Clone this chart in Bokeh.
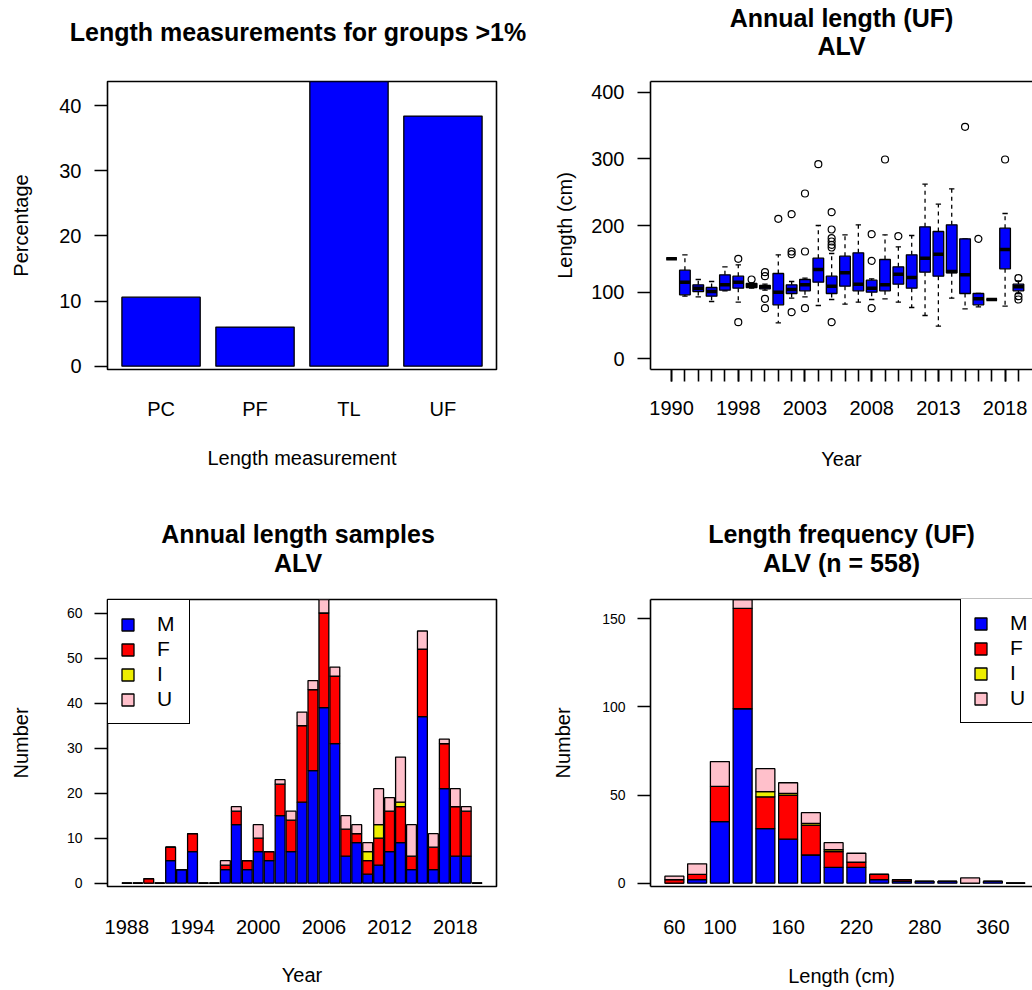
from bokeh.plotting import figure
from bokeh.layouts import column, row
from bokeh.models import (ColumnDataSource, FactorRange, Range1d, FixedTicker,
                          SingleIntervalTicker, Title, Legend, LegendItem, LinearAxis)
from bokeh.embed import file_html
from bokeh.resources import INLINE

FONT = "Liberation Sans"

# ---------------------------------------------------------------- data
# share of length records by measurement type (%), groups above 1 %
meas_types = ["PC", "PF", "TL", "UF"]
meas_pct = [10.6, 6.0, 43.7, 38.4]

# annual UF length summary (cm)
box_years = [1990, 1992, 1993, 1994, 1997, 1998, 1999, 2000, 2001, 2002, 2003, 2004,
             2005, 2006, 2007, 2008, 2009, 2010, 2011, 2012, 2013, 2014, 2015, 2016,
             2017, 2018, 2019]
box_lo = [150, 94, 93, 86, 102, 85, 106, 103, 54, 91, 93, 80, 89, 82, 85, 89, 90, 85,
          77, 65, 49, 91, 75, 78, 89, 79, 98]
box_q1 = [150, 96, 101, 94, 103, 106, 107, 105, 81, 98, 102, 115, 98, 109, 102, 100, 102,
          112, 106, 130, 124, 129, 98, 81, 89, 135, 102]
box_med = [150, 115, 106, 101, 111, 115, 110, 108, 100, 104, 111, 134, 109, 129, 112, 106,
           111, 127, 122, 151, 157, 131, 126, 90, 89, 164, 108]
box_q3 = [150, 133, 111, 107, 126, 124, 113, 110, 128, 111, 119, 151, 124, 154, 159, 118,
          149, 138, 156, 198, 191, 201, 180, 98, 89, 196, 112]
box_hi = [150, 156, 119, 116, 138, 141, 114, 112, 156, 116, 121, 200, 158, 186, 201, 120,
          186, 168, 185, 262, 232, 255, 180, 98, 89, 218, 117]
out_years = [1998, 1998, 1999, 2000, 2000, 2000, 2000, 2001, 2002, 2002, 2002, 2002,
             2003, 2003, 2003, 2004, 2005, 2005, 2005, 2005, 2005, 2005, 2005, 2008,
             2008, 2008, 2009, 2010, 2015, 2016, 2018, 2019, 2019, 2019]
out_len = [150, 55, 119, 130, 124, 90, 76, 210, 217, 161, 157, 70, 248, 161, 76, 292,
           220, 194, 181, 176, 171, 167, 55, 187, 147, 76, 299, 184, 348, 180, 299,
           121, 94, 89]
box_year_labels = ["1990", "1998", "2003", "2008", "2013", "2018"]

# annual number of length samples by sex
sample_years = [1988, 1989, 1990, 1991, 1992, 1993, 1994, 1995, 1996, 1997, 1998, 1999,
                2000, 2001, 2002, 2003, 2004, 2005, 2006, 2007, 2008, 2009, 2010, 2011,
                2012, 2013, 2014, 2015, 2016, 2017, 2018, 2019, 2020]
sex_M = [0, 0, 0, 0, 5, 3, 7, 0, 0, 3, 13, 3, 7, 5, 15, 7, 18, 25, 39, 31, 6, 9, 2, 4,
         7, 9, 3, 37, 3, 21, 6, 6, 0]
sex_F = [0, 0, 1, 0, 3, 0, 4, 0, 0, 1, 3, 2, 3, 2, 7, 7, 17, 18, 21, 15, 6, 2, 3, 6,
         9, 8, 3, 15, 5, 10, 11, 10, 0]
sex_I = [0, 0, 0, 0, 0, 0, 0, 0, 0, 0, 0, 0, 0, 0, 0, 0, 0, 0, 0, 0, 0, 0, 2, 3,
         0, 1, 0, 0, 0, 0, 0, 0, 0]
sex_U = [0, 0, 0, 0, 0, 0, 0, 0, 0, 1, 1, 0, 3, 0, 1, 2, 3, 2, 3, 2, 3, 2, 2, 8,
         3, 10, 7, 4, 3, 1, 4, 1, 0]
year_tick_labels = [1988, 1994, 2000, 2006, 2012, 2018]

# UF length frequency by 20 cm class and sex
len_bins = ["60", "80", "100", "120", "140", "160", "180", "200", "220", "240", "260",
            "280", "300", "340", "360", "380"]
freq_M = [0, 2, 35, 99, 31, 25, 16, 9, 9, 2, 1, 1, 1, 0, 1, 0]
freq_F = [2, 3, 20, 57, 18, 25, 17, 9, 3, 3, 1, 0, 0, 0, 0, 0]
freq_I = [0, 0, 0, 0, 3, 1, 1, 1, 0, 0, 0, 0, 0, 0, 0, 0]
freq_U = [2, 6, 14, 5, 13, 6, 6, 4, 5, 0, 0, 0, 0, 3, 0, 0]
len_tick_labels = ["60", "100", "160", "220", "280", "360"]

sex_codes = ["M", "F", "I", "U"]
sex_colors = ["#0000FF", "#FF0000", "#EEEE00", "#FFC0CB"]

# ---------------------------------------------------------------- layout constants
ROW_H = 495
LW = 1.6
VISIBLE = 382 / 389  # right-hand panels run past the page edge
LEGEND_H = 124


def base_fig(width, x_range, y_range, left, right, top, bottom, outline=True):
    p = figure(width=width, height=ROW_H, x_range=x_range, y_range=y_range,
               title=None, output_backend="svg", toolbar_location=None,
               min_border_left=left, min_border_right=right,
               min_border_top=top, min_border_bottom=bottom)
    p.grid.visible = False
    p.background_fill_color = "white"
    p.border_fill_color = "white"
    if outline:
        p.outline_line_color = "black"
        p.outline_line_width = LW
        p.outline_line_alpha = 1.0
    else:
        p.outline_line_color = None
    return p


def style_axis(ax, tick_size="20px"):
    ax.major_label_text_font = FONT
    ax.major_label_text_font_size = tick_size
    ax.major_label_text_color = "black"
    ax.axis_label_text_font = FONT
    ax.axis_label_text_font_size = "20px"
    ax.axis_label_text_font_style = "normal"
    ax.axis_label_text_color = "black"
    ax.major_tick_line_color = "black"
    ax.major_tick_line_width = LW
    ax.major_tick_in = 0
    ax.minor_tick_line_color = None
    ax.axis_line_color = None


def add_title(p, lines, gaps, standoffs, shift_left=0):
    # lines are given from the frame outward; gap = empty space kept below the text
    for text, g, s in zip(lines, gaps, standoffs):
        p.add_layout(Title(text=text, align="center", standoff=s,
                           padding=dict(left=0, right=2 * shift_left, top=0, bottom=g),
                           text_font=FONT, text_font_size="25px",
                           text_font_style="bold", text_color="black"), "above")


def open_frame(p):
    # left / bottom / top sides of the frame come from axis lines
    p.yaxis.axis_line_color = "black"
    p.yaxis.axis_line_width = LW
    p.xaxis.axis_line_color = "black"
    p.xaxis.axis_line_width = LW
    top_ax = LinearAxis(ticker=FixedTicker(ticks=[]), axis_line_color="black",
                        axis_line_width=LW, major_tick_line_color=None,
                        minor_tick_line_color=None, major_label_text_font_size="0px",
                        major_tick_out=0, major_label_standoff=0)
    p.add_layout(top_ax, "above")


def make_legend(renderers, location):
    items = [LegendItem(label=s, renderers=[r]) for s, r in zip(sex_codes, renderers)]
    return Legend(items=items, location=location, margin=0, padding=12, spacing=1,
                  glyph_width=15, glyph_height=15, label_standoff=22,
                  label_text_font=FONT, label_text_font_size="21px",
                  label_text_color="black",
                  border_line_color="black", border_line_width=LW,
                  border_line_alpha=1.0,
                  background_fill_color="white", background_fill_alpha=1.0)


def zero_pad(top, frame_h, gap=3.3):
    return -top * gap / (frame_h - gap)


# ---------------------------------------------------------------- 1: measurement types
F1_H = ROW_H - 81 - 126
bar_w = 1 / 1.2
p1 = base_fig(540,
              FactorRange(factors=meas_types, range_padding=0.07,
                          range_padding_units="absolute"),
              Range1d(zero_pad(max(meas_pct), F1_H), max(meas_pct)),
              107, 44, 81, 126)
p1.vbar(x=meas_types, top=meas_pct, width=bar_w, fill_color="#0000FF",
        line_color="black", line_width=1.3)
style_axis(p1.xaxis[0])
style_axis(p1.yaxis[0])
p1.xaxis.major_tick_out = 0
p1.xaxis.major_tick_line_color = None
p1.xaxis.major_label_standoff = 28
p1.xaxis.axis_label = "Length measurement"
p1.xaxis.axis_label_standoff = 24
p1.yaxis.ticker = SingleIntervalTicker(interval=10)
p1.yaxis.major_tick_out = 13
p1.yaxis.major_label_standoff = 13
p1.yaxis.axis_label = "Percentage"
p1.yaxis.axis_label_standoff = 24
add_title(p1, ["Length measurements for groups >1%"], [36], [0], shift_left=4)

# ---------------------------------------------------------------- 2: annual boxplot
n_box = len(box_years)
box_x = [i + 1 for i in range(n_box)]
bx_start = 0.5 - 0.04 * n_box
bx_end = bx_start + (n_box + 0.5 + 0.04 * n_box - bx_start) * VISIBLE
p2 = base_fig(492, Range1d(bx_start, bx_end), Range1d(-16, 416),
              110, 0, 81, 126, outline=False)
box_src = ColumnDataSource(dict(x=box_x, lo=box_lo, q1=box_q1, med=box_med,
                                q3=box_q3, hi=box_hi,
                                cap_l=[x - 0.2 for x in box_x],
                                cap_r=[x + 0.2 for x in box_x]))
p2.segment(x0="x", y0="q3", x1="x", y1="hi", source=box_src, line_color="black",
           line_width=1.3, line_dash="4 4")
p2.segment(x0="x", y0="q1", x1="x", y1="lo", source=box_src, line_color="black",
           line_width=1.3, line_dash="4 4")
p2.segment(x0="cap_l", y0="hi", x1="cap_r", y1="hi", source=box_src,
           line_color="black", line_width=1.3)
p2.segment(x0="cap_l", y0="lo", x1="cap_r", y1="lo", source=box_src,
           line_color="black", line_width=1.3)
p2.vbar(x="x", bottom="q1", top="q3", width=0.8, source=box_src,
        fill_color="#0000FF", line_color="black", line_width=1.3)
p2.rect(x="x", y="med", width=0.8, height=3.5, height_units="screen",
        source=box_src, fill_color="black", line_color=None)
out_x = [box_x[box_years.index(y)] for y in out_years]
p2.scatter(x=out_x, y=out_len, marker="circle", size=7, fill_color=None,
           line_color="black", line_width=1.2)
style_axis(p2.xaxis[0])
style_axis(p2.yaxis[0])
major_x = [box_x[box_years.index(int(s))] for s in box_year_labels]
p2.xaxis.ticker = FixedTicker(ticks=major_x, minor_ticks=box_x)
p2.xaxis.major_label_overrides = {x: s for x, s in zip(major_x, box_year_labels)}
p2.xaxis.major_tick_out = 12
p2.xaxis.minor_tick_out = 12
p2.xaxis.minor_tick_in = 0
p2.xaxis.minor_tick_line_color = "black"
p2.xaxis.minor_tick_line_width = LW
p2.xaxis.major_label_standoff = 19
p2.xaxis.axis_label = "Year"
p2.xaxis.axis_label_standoff = 30
p2.yaxis.ticker = SingleIntervalTicker(interval=100)
p2.yaxis.major_tick_out = 13
p2.yaxis.major_label_standoff = 13
p2.yaxis.axis_label = "Length (cm)"
p2.yaxis.axis_label_standoff = 12
open_frame(p2)
add_title(p2, ["ALV", "Annual length (UF)"], [22, 0], [0, -4])

# ---------------------------------------------------------------- 3: annual samples
F3_H = ROW_H - 104 - 104
yr_w = 0.9
yr_span = (sample_years[-1] - sample_years[0]) + yr_w
yr_start = sample_years[0] - yr_w / 2 - 0.04 * yr_span
yr_end = sample_years[-1] + yr_w / 2 + 0.04 * yr_span
yr_totals = [m + f + i + u for m, f, i, u in zip(sex_M, sex_F, sex_I, sex_U)]
n_total = sum(yr_totals)
p3 = base_fig(540, Range1d(yr_start, yr_end),
              Range1d(zero_pad(max(yr_totals), F3_H), max(yr_totals)),
              107, 44, 104, 104)
src3 = ColumnDataSource(dict(year=sample_years, M=sex_M, F=sex_F, I=sex_I, U=sex_U))
r3 = p3.vbar_stack(sex_codes, x="year", width=yr_w, source=src3, color=sex_colors,
                   line_color="black", line_width=1.3)
style_axis(p3.xaxis[0])
style_axis(p3.yaxis[0], tick_size="14px")
p3.xaxis.ticker = FixedTicker(ticks=year_tick_labels)
p3.xaxis.major_tick_out = 0
p3.xaxis.major_tick_line_color = None
p3.xaxis.major_label_standoff = 33
p3.xaxis.axis_label = "Year"
p3.xaxis.axis_label_standoff = 27
p3.yaxis.ticker = SingleIntervalTicker(interval=10)
p3.yaxis.major_tick_out = 13
p3.yaxis.major_label_standoff = 12
p3.yaxis.axis_label = "Number"
p3.yaxis.axis_label_standoff = 32
p3.add_layout(make_legend(r3, "top_left"))
add_title(p3, ["ALV", "Annual length samples"], [23, 0], [0, -2], shift_left=4)

# ---------------------------------------------------------------- 4: length frequency
n_bins = len(len_bins)
bin_x = list(range(n_bins))
bin_span = n_bins - 1 + bar_w
bn_start = -bar_w / 2 - 0.04 * bin_span
bn_end = bn_start + (n_bins - 1 + bar_w / 2 + 0.04 * bin_span - bn_start) * VISIBLE
bin_totals = [m + f + i + u for m, f, i, u in zip(freq_M, freq_F, freq_I, freq_U)]
p4 = base_fig(492, Range1d(bn_start, bn_end),
              Range1d(zero_pad(max(bin_totals), F3_H), max(bin_totals)),
              110, 0, 104, 104, outline=False)
src4 = ColumnDataSource(dict(x=bin_x, M=freq_M, F=freq_F, I=freq_I, U=freq_U))
r4 = p4.vbar_stack(sex_codes, x="x", width=bar_w, source=src4, color=sex_colors,
                   line_color="black", line_width=1.3)
style_axis(p4.xaxis[0])
style_axis(p4.yaxis[0], tick_size="14px")
len_major = [len_bins.index(s) for s in len_tick_labels]
p4.xaxis.ticker = FixedTicker(ticks=len_major)
p4.xaxis.major_label_overrides = {x: s for x, s in zip(len_major, len_tick_labels)}
p4.xaxis.major_tick_out = 0
p4.xaxis.major_tick_line_color = None
p4.xaxis.major_label_standoff = 33
p4.xaxis.axis_label = "Length (cm)"
p4.xaxis.axis_label_standoff = 28
p4.yaxis.ticker = SingleIntervalTicker(interval=50)
p4.yaxis.major_tick_out = 13
p4.yaxis.major_label_standoff = 12
p4.yaxis.axis_label = "Number"
p4.yaxis.axis_label_standoff = 25
open_frame(p4)
p4.add_layout(make_legend(r4, (310, F3_H - LEGEND_H)))
add_title(p4, [f"ALV (n = {n_total})", "Length frequency (UF)"], [23, 0], [0, -2])

layout = column(row(p1, p2), row(p3, p4))
open("out.html", "w").write(file_html(layout, INLINE))
